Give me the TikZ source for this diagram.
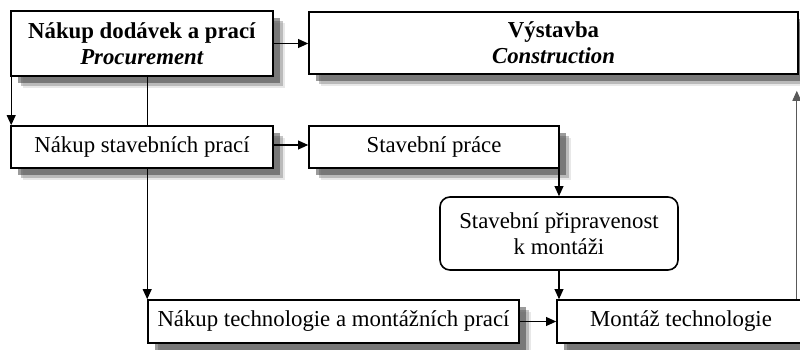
\documentclass[tikz,border=0pt]{standalone}
\usepackage{fontspec}
\setmainfont{Liberation Serif}
\usetikzlibrary{arrows.meta}
\usetikzlibrary{shadows}
\tikzset{
 blok/.style={draw, fill=white, line width=0.8pt, inner sep=1pt,
  drop shadow={shadow xshift=6pt, shadow yshift=-6pt, fill=black!18},
  drop shadow={shadow xshift=4.8pt, shadow yshift=-4.8pt, fill=black!45},
  drop shadow={shadow xshift=3.3pt, shadow yshift=-3.3pt, fill=black!78},
  font=\fontsize{11.4}{13}\selectfont, align=center},
 arr/.style={line width=0.6pt, -{Triangle[length=5pt,width=4.4pt]}}
}
\begin{document}
\begin{tikzpicture}[x=0.5pt, y=-0.5pt]
\useasboundingbox (0,0) rectangle (800,349);
\clip (0,0) rectangle (800,349);
\node[blok, minimum width=131pt, minimum height=32.5pt] (nakup) at (142,43.5) {\textbf{Nákup dodávek a prací}\\\textbf{\textit{Procurement}}};
\node[blok, minimum width=244.5pt, minimum height=31pt] (vystavba) at (553.5,43) {\textbf{Výstavba}\\\textbf{\textit{Construction}}};
\node[blok, minimum width=131pt, minimum height=21pt] (nsp) at (142,147) {Nákup stavebních prací};
\node[blok, minimum width=125pt, minimum height=21pt] (sp) at (434,147) {Stavební práce};
\node[draw, fill=white, line width=0.8pt, rounded corners=5pt, minimum width=119pt, minimum height=36.5pt,
 font=\fontsize{11.4}{13}\selectfont, align=center] (ready) at (559,233.5) {Stavební připravenost\\k montáži};
\node[blok, minimum width=185.5pt, minimum height=21.5pt] (ntm) at (333.5,321.5) {Nákup technologie a montážních prací};
\node[blok, minimum width=124pt, minimum height=21.5pt] (mt) at (681,321.5) {Montáž technologie};
\draw[arr] (nakup.east) -- (nakup.east -| vystavba.west);
\draw[arr] ([xshift=0.5pt]nakup.south west) -- ([xshift=0.5pt]nsp.north west);
\draw[line width=0.6pt] (ntm.north west |- nakup.south) -- (ntm.north west |- nsp.north);
\draw[arr] (ntm.north west |- nsp.south) -- (ntm.north west);
\draw[arr] ([yshift=1pt]nsp.east) -- ([yshift=1pt]nsp.east -| sp.west);
\draw[arr] (ready.north |- sp.south) -- (ready.north);
\draw[arr] (ready.south) -- (ready.south |- mt.north);
\draw[arr] (ntm.east) -- (mt.west);
\coordinate (vpod) at ([xshift=-1pt,yshift=-8pt]vystavba.south east);
\draw[arr, black!65, line width=0.4pt] (mt.north -| vpod) -- (vpod);
\end{tikzpicture}
\end{document}
